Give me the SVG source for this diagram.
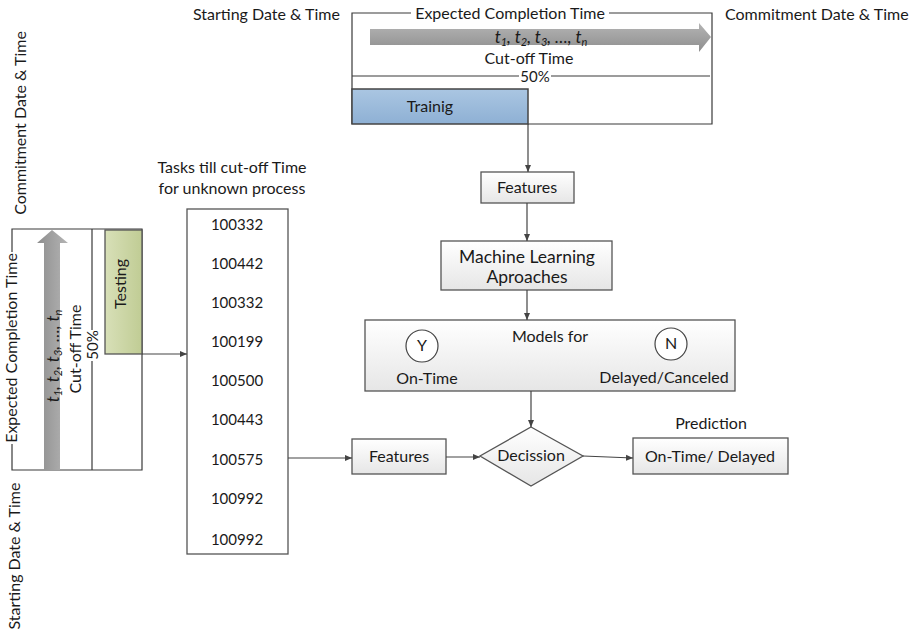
<svg xmlns="http://www.w3.org/2000/svg" width="913" height="635" viewBox="0 0 913 635">
<style>
text{font-family:Lato,"Liberation Sans",sans-serif;font-size:16px;fill:#1a1a1a}
.c{text-anchor:middle}
.num{font-size:15px}
.big{font-size:17.5px}
.pct{font-size:15px}
.ln{stroke:#3a3a3a;stroke-width:1.2;fill:none}
.box{fill:url(#boxg);stroke:#555;stroke-width:1.3}
.con{stroke:#444;stroke-width:1.2;fill:none;marker-end:url(#ah)}
.it{font-style:italic;font-size:17px}
.sub{font-size:11px}
</style>
<defs>
<linearGradient id="boxg" x1="0" y1="0" x2="0" y2="1"><stop offset="0" stop-color="#ffffff"/><stop offset="1" stop-color="#e6e6e6"/></linearGradient>
<linearGradient id="blue" x1="0" y1="0" x2="0" y2="1"><stop offset="0" stop-color="#aac6e2"/><stop offset="1" stop-color="#8eb0d4"/></linearGradient>
<linearGradient id="green" x1="0" y1="0" x2="1" y2="0"><stop offset="0" stop-color="#d8e0b8"/><stop offset="1" stop-color="#c0cc94"/></linearGradient>
<linearGradient id="grayh" x1="0" y1="0" x2="0" y2="1"><stop offset="0" stop-color="#b4b4b4"/><stop offset="1" stop-color="#8e8e8e"/></linearGradient>
<linearGradient id="grayv" x1="0" y1="0" x2="1" y2="0"><stop offset="0" stop-color="#8e8e8e"/><stop offset="1" stop-color="#b4b4b4"/></linearGradient>
<marker id="ah" markerWidth="8" markerHeight="8" refX="7" refY="4" orient="auto" markerUnits="userSpaceOnUse"><path d="M0,1 L7,4 L0,7 Z" fill="#444"/></marker>
</defs>

<g id="timeline-top">
<text x="193" y="20">Starting Date &amp; Time</text>
<text x="725" y="20">Commitment Date &amp; Time</text>
<path class="ln" d="M352,124 V13 H411 M609,13 H712 V124 H528"/>
<text class="c" x="510" y="19">Expected Completion Time</text>
<polygon points="370,29 699,29 699,23 711,37 699,52 699,45 370,45" fill="url(#grayh)"/>
<text class="c it" x="541" y="43">t<tspan class="sub" dy="3">1</tspan><tspan dy="-3">, t</tspan><tspan class="sub" dy="3">2</tspan><tspan dy="-3">, t</tspan><tspan class="sub" dy="3">3</tspan><tspan dy="-3">, …, t</tspan><tspan class="sub" dy="3">n</tspan></text>
<text class="c" x="529" y="64">Cut-off Time</text>
<path class="ln" d="M352,76 H519 M551,76 H710"/>
<text class="c pct" x="535" y="82">50%</text>
</g>

<g id="training">
<rect x="352" y="89" width="176" height="35" fill="url(#blue)" stroke="#444" stroke-width="1.5"/>
<text class="c" x="430" y="112">Trainig</text>
</g>

<g id="timeline-left">
<text class="c" transform="translate(26,123) rotate(-90)">Commitment Date &amp; Time</text>
<text class="c" transform="translate(20,556) rotate(-90)">Starting Date &amp; Time</text>
<path class="ln" d="M12,252 V229 H142 V470 H12 V444"/>
<text class="c" transform="translate(17,348) rotate(-90)">Expected Completion Time</text>
<polygon points="44,470 44,243 37,243 52,230 68,243 60,243 60,470" fill="url(#grayv)"/>
<text class="c it" transform="translate(59,356) rotate(-90)">t<tspan class="sub" dy="3">1</tspan><tspan dy="-3">, t</tspan><tspan class="sub" dy="3">2</tspan><tspan dy="-3">, t</tspan><tspan class="sub" dy="3">3</tspan><tspan dy="-3">, …, t</tspan><tspan class="sub" dy="3">n</tspan></text>
<text class="c" transform="translate(81,349) rotate(-90)">Cut-off Time</text>
<path class="ln" d="M92,229 V330 M92,361 V470"/>
<text class="c pct" transform="translate(98,345) rotate(-90)">50%</text>
</g>

<g id="testing">
<rect x="105" y="230" width="37" height="124" fill="url(#green)" stroke="#555" stroke-width="1.3"/>
<text class="c" transform="translate(126,284) rotate(-90)">Testing</text>
</g>

<g id="tasks">
<text class="c" x="232" y="173">Tasks till cut-off Time</text>
<text class="c" x="232" y="194">for unknown process</text>
<rect x="187" y="209" width="101" height="345" fill="#fff" stroke="#555" stroke-width="1.3"/>
<text class="c num" x="237" y="230">100332</text>
<text class="c num" x="237" y="269">100442</text>
<text class="c num" x="237" y="308">100332</text>
<text class="c num" x="237" y="347">100199</text>
<text class="c num" x="237" y="386">100500</text>
<text class="c num" x="237" y="425">100443</text>
<text class="c num" x="237" y="465">100575</text>
<text class="c num" x="237" y="504">100992</text>
<text class="c num" x="237" y="545">100992</text>
</g>

<g id="features1">
<rect class="box" x="481" y="172" width="93" height="31"/>
<text class="c" x="527" y="193">Features</text>
</g>

<g id="ml">
<rect class="box" x="441" y="241" width="171" height="49"/>
<text class="c big" x="527" y="263">Machine Learning</text>
<text class="c big" x="527" y="283">Aproaches</text>
</g>

<g id="models">
<rect class="box" x="365" y="320" width="370" height="71"/>
<text class="c" x="550" y="342">Models for</text>
<circle cx="422" cy="346" r="16" fill="#fff" stroke="#444" stroke-width="1.2"/>
<text class="c" x="422" y="351" font-size="14">Y</text>
<text class="c" x="427" y="384">On-Time</text>
<circle cx="671" cy="344" r="16" fill="#fff" stroke="#444" stroke-width="1.2"/>
<text class="c" x="671" y="349" font-size="14">N</text>
<text class="c" x="664" y="383">Delayed/Canceled</text>
</g>

<g id="features2">
<rect class="box" x="352" y="439" width="94" height="35"/>
<text class="c" x="399" y="462">Features</text>
</g>

<g id="decision">
<polygon points="531,427 583,456 531,486 480,456" fill="url(#boxg)" stroke="#555" stroke-width="1.3"/>
<text class="c" x="531" y="461">Decission</text>
</g>

<g id="prediction">
<text class="c" x="711" y="429">Prediction</text>
<rect class="box" x="633" y="438" width="155" height="36"/>
<text class="c" x="710" y="462">On-Time/ Delayed</text>
</g>

<g id="connectors">
<line class="con" x1="528" y1="124" x2="528" y2="172"/>
<line class="con" x1="527" y1="203" x2="527" y2="241"/>
<line class="con" x1="527" y1="290" x2="527" y2="320"/>
<line class="con" x1="531" y1="391" x2="531" y2="427"/>
<line class="con" x1="142" y1="354" x2="187" y2="354"/>
<line class="con" x1="288" y1="458" x2="352" y2="458"/>
<line class="con" x1="446" y1="457" x2="480" y2="457"/>
<line class="con" x1="583" y1="456" x2="633" y2="458"/>
</g>
</svg>
